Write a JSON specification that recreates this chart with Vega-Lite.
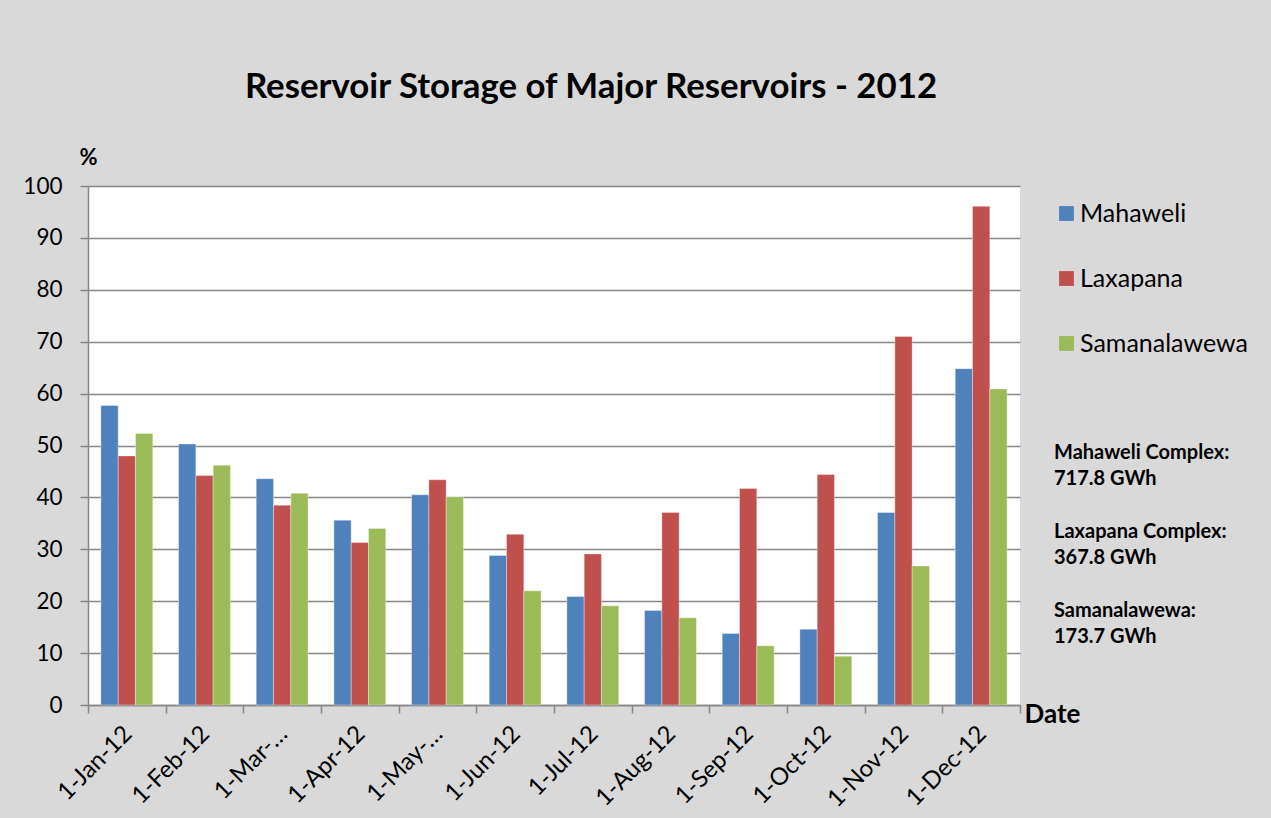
{
  "$schema": "https://vega.github.io/schema/vega-lite/v6.json",
  "autosize": {"type": "none"},
  "padding": {"left": 88, "top": 186, "right": 251, "bottom": 113},
  "width": 932,
  "height": 519,
  "background": "#d9d9d9",
  "config": {
    "font": "Lato",
    "view": {"fill": "white", "stroke": null}
  },
  "title": {
    "text": "Reservoir Storage of Major Reservoirs - 2012",
    "font": "Lato",
    "fontSize": 34.8,
    "fontWeight": "bold",
    "color": "black",
    "anchor": "middle",
    "dx": 37,
    "offset": 40
  },
  "data": {
    "values": [
      {"date": "1-Jan-12", "reservoir": "Mahaweli", "storage": 57.7},
      {"date": "1-Jan-12", "reservoir": "Laxapana", "storage": 48.0},
      {"date": "1-Jan-12", "reservoir": "Samanalawewa", "storage": 52.3},
      {"date": "1-Feb-12", "reservoir": "Mahaweli", "storage": 50.3},
      {"date": "1-Feb-12", "reservoir": "Laxapana", "storage": 44.2},
      {"date": "1-Feb-12", "reservoir": "Samanalawewa", "storage": 46.2},
      {"date": "1-Mar-12", "reservoir": "Mahaweli", "storage": 43.6},
      {"date": "1-Mar-12", "reservoir": "Laxapana", "storage": 38.5},
      {"date": "1-Mar-12", "reservoir": "Samanalawewa", "storage": 40.8},
      {"date": "1-Apr-12", "reservoir": "Mahaweli", "storage": 35.6},
      {"date": "1-Apr-12", "reservoir": "Laxapana", "storage": 31.3},
      {"date": "1-Apr-12", "reservoir": "Samanalawewa", "storage": 34.0},
      {"date": "1-May-12", "reservoir": "Mahaweli", "storage": 40.5},
      {"date": "1-May-12", "reservoir": "Laxapana", "storage": 43.4},
      {"date": "1-May-12", "reservoir": "Samanalawewa", "storage": 40.1},
      {"date": "1-Jun-12", "reservoir": "Mahaweli", "storage": 28.8},
      {"date": "1-Jun-12", "reservoir": "Laxapana", "storage": 32.9},
      {"date": "1-Jun-12", "reservoir": "Samanalawewa", "storage": 22.0},
      {"date": "1-Jul-12", "reservoir": "Mahaweli", "storage": 20.9},
      {"date": "1-Jul-12", "reservoir": "Laxapana", "storage": 29.1},
      {"date": "1-Jul-12", "reservoir": "Samanalawewa", "storage": 19.1},
      {"date": "1-Aug-12", "reservoir": "Mahaweli", "storage": 18.2},
      {"date": "1-Aug-12", "reservoir": "Laxapana", "storage": 37.1},
      {"date": "1-Aug-12", "reservoir": "Samanalawewa", "storage": 16.8},
      {"date": "1-Sep-12", "reservoir": "Mahaweli", "storage": 13.8},
      {"date": "1-Sep-12", "reservoir": "Laxapana", "storage": 41.7},
      {"date": "1-Sep-12", "reservoir": "Samanalawewa", "storage": 11.4},
      {"date": "1-Oct-12", "reservoir": "Mahaweli", "storage": 14.6},
      {"date": "1-Oct-12", "reservoir": "Laxapana", "storage": 44.4},
      {"date": "1-Oct-12", "reservoir": "Samanalawewa", "storage": 9.4},
      {"date": "1-Nov-12", "reservoir": "Mahaweli", "storage": 37.1},
      {"date": "1-Nov-12", "reservoir": "Laxapana", "storage": 71.0},
      {"date": "1-Nov-12", "reservoir": "Samanalawewa", "storage": 26.8},
      {"date": "1-Dec-12", "reservoir": "Mahaweli", "storage": 64.8},
      {"date": "1-Dec-12", "reservoir": "Laxapana", "storage": 96.1},
      {"date": "1-Dec-12", "reservoir": "Samanalawewa", "storage": 60.9}
    ]
  },
  "mark": {"type": "bar", "stroke": "white", "strokeOpacity": 0.35, "strokeWidth": 1},
  "encoding": {
    "x": {
      "field": "date",
      "type": "nominal",
      "sort": null,
      "scale": {"paddingInner": 0, "paddingOuter": 0},
      "axis": {
        "title": "Date",
        "titleX": 936,
        "titleY": 9,
        "titleAlign": "left",
        "titleBaseline": "middle",
        "titleAnchor": null,
        "titleFontSize": 26,
        "titleFontWeight": "bold",
        "titleColor": "black",
        "tickBand": "extent",
        "tickSize": 8,
        "tickColor": "#868686",
        "tickWidth": 1.5,
        "domainColor": "#868686",
        "domainWidth": 1.5,
        "labelAngle": -45,
        "labelAlign": "right",
        "labelBaseline": "middle",
        "labelFontSize": 24,
        "labelColor": "black",
        "labelPadding": 17,
        "labelOffset": 1,
        "labelExpr": "datum.value === '1-Mar-12' ? '1-Mar-…' : datum.value === '1-May-12' ? '1-May-…' : datum.value"
      }
    },
    "xOffset": {
      "field": "reservoir",
      "sort": ["Mahaweli", "Laxapana", "Samanalawewa"],
      "scale": {"paddingInner": 0, "paddingOuter": 0.745}
    },
    "y": {
      "field": "storage",
      "type": "quantitative",
      "scale": {"domain": [0, 100]},
      "axis": {
        "title": "%",
        "titleAngle": 0,
        "titleX": 0,
        "titleY": -29,
        "titleAlign": "center",
        "titleBaseline": "middle",
        "titleFontSize": 22,
        "titleFontWeight": "bold",
        "titleColor": "black",
        "values": [0, 10, 20, 30, 40, 50, 60, 70, 80, 90, 100],
        "labelFontSize": 22.5,
        "labelColor": "black",
        "labelPadding": 18,
        "tickSize": 8,
        "tickColor": "#868686",
        "tickWidth": 1.5,
        "domainColor": "#868686",
        "domainWidth": 1.5,
        "gridColor": "#868686",
        "gridWidth": 1.5
      }
    },
    "color": {
      "field": "reservoir",
      "type": "nominal",
      "sort": ["Mahaweli", "Laxapana", "Samanalawewa"],
      "scale": {
        "domain": ["Mahaweli", "Laxapana", "Samanalawewa"],
        "range": ["#4f81bd", "#c0504d", "#9bbb59"]
      },
      "legend": {
        "orient": "none",
        "legendX": 966,
        "legendY": 15,
        "direction": "vertical",
        "padding": 0,
        "title": ["Mahaweli Complex:", "717.8 GWh", "\u2800", "Laxapana Complex:", "367.8 GWh", "\u2800", "Samanalawewa:", "173.7 GWh"],
        "titleOrient": "bottom",
        "titleAnchor": "start",
        "titleAlign": "left",
        "titleFontSize": 20,
        "titleFontWeight": "bold",
        "titleColor": "black",
        "titleLineHeight": 26.3,
        "titlePadding": 86,
        "titleLimit": 400,
        "labelFontSize": 25,
        "labelColor": "black",
        "labelOffset": 1,
        "labelLimit": 300,
        "symbolType": "square",
        "symbolSize": 220,
        "symbolStrokeWidth": 0,
        "rowPadding": 39
      }
    }
  }
}
